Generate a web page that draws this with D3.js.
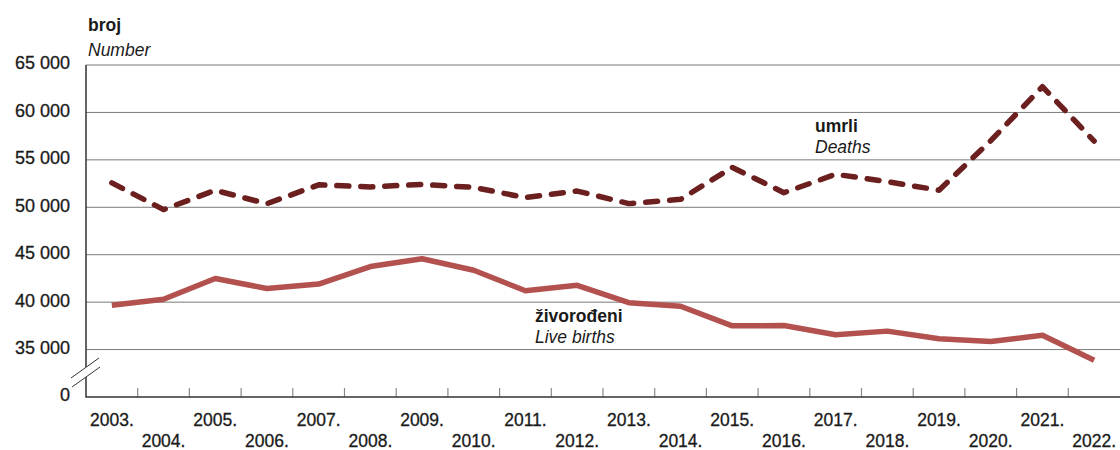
<!DOCTYPE html>
<html>
<head>
<meta charset="utf-8">
<script src="https://cdn.jsdelivr.net/npm/d3@7"></script>
<style>
  body { margin: 0; background: #fff; }
  svg { display: block; font-family: "Liberation Sans", Arial, sans-serif; }
</style>
</head>
<body>
<svg id="svg" width="1120" height="450"></svg>
<script>
(function() {
  'use strict';

  // data
  var years = ['2003.', '2004.', '2005.', '2006.', '2007.', '2008.', '2009.', '2010.', '2011.', '2012.',
               '2013.', '2014.', '2015.', '2016.', '2017.', '2018.', '2019.', '2020.', '2021.', '2022.'];
  var deaths = [52575, 49756, 51790, 50378, 52367, 52151, 52414, 52096, 51019, 51710,
                50386, 50839, 54205, 51542, 53477, 52706, 51794, 57023, 62712, 56979];
  var births = [39668, 40307, 42492, 41446, 41910, 43753, 44577, 43361, 41197, 41771,
                39939, 39566, 37503, 37537, 36556, 36945, 36135, 35845, 36508, 33883];
  // 30000 stands for the broken "0" position
  var yTicks = [30000, 35000, 40000, 45000, 50000, 55000, 60000, 65000];

  var svg = d3.select('#svg');
  var left = 86, right = 1120, top = 65, bottom = 397;
  var textColor = '#1a1a1a';

  var x = d3.scaleBand().domain(years).range([left, right]);
  var y = d3.scaleLinear().domain([30000, 65000]).range([bottom, top]);

  // grid lines
  svg.append('g')
    .selectAll('line')
    .data(yTicks.slice(1))
    .join('line')
    .attr('x1', left).attr('x2', right)
    .attr('y1', function(d) { return y(d); })
    .attr('y2', function(d) { return y(d); })
    .attr('stroke', '#7a7a7a')
    .attr('stroke-width', 1);

  // y axis labels
  var fmt = function(d) {
    return d === 30000 ? '0' : d3.format(',')(d).replace(',', ' ');
  };
  var yAxis = svg.append('g')
    .attr('transform', 'translate(' + left + ',0)')
    .call(d3.axisLeft(y).tickValues(yTicks).tickSize(0).tickPadding(16).tickFormat(fmt));
  yAxis.select('.domain').remove();
  yAxis.selectAll('text')
    .attr('font-size', 18)
    .attr('fill', textColor)
    .attr('stroke', textColor)
    .attr('stroke-width', 0.3)
    .attr('dy', '0.22em')
    .style('font-family', '"Liberation Sans", Arial, sans-serif');

  // x ticks at band edges, pointing up
  svg.append('g')
    .selectAll('line')
    .data(years.slice(1))
    .join('line')
    .attr('x1', function(d) { return x(d); })
    .attr('x2', function(d) { return x(d); })
    .attr('y1', bottom).attr('y2', bottom - 9)
    .attr('stroke', '#8a8a8a')
    .attr('stroke-width', 1.2);

  // x labels, staggered on two rows
  var xAxis = svg.append('g')
    .attr('transform', 'translate(0,' + bottom + ')')
    .call(d3.axisBottom(x).tickSize(0).tickPadding(0));
  xAxis.select('.domain').remove();
  xAxis.selectAll('text')
    .attr('font-size', 17.5)
    .attr('fill', textColor)
    .attr('stroke', textColor)
    .attr('stroke-width', 0.3)
    .style('font-family', '"Liberation Sans", Arial, sans-serif')
    .attr('dy', null)
    .attr('y', function(d, i) { return i % 2 === 0 ? 28.5 : 50; });

  // axes lines
  svg.append('path')
    .attr('d', 'M' + left + ',' + top + 'V' + bottom + 'H' + right)
    .attr('fill', 'none')
    .attr('stroke', '#333')
    .attr('stroke-width', 1.5);

  // axis break
  svg.append('path')
    .attr('d', 'M71,378 L99,358 L100,367 L72,387 Z')
    .attr('fill', '#fff');
  svg.append('path')
    .attr('d', 'M71,378 L99,358 M72,387 L100,367')
    .attr('stroke', '#333')
    .attr('stroke-width', 1);

  var line = d3.line()
    .x(function(d, i) { return x(years[i]) + x.bandwidth() / 2; })
    .y(function(d) { return y(d); });

  svg.append('path')
    .attr('d', line(births))
    .attr('fill', 'none')
    .attr('stroke', '#b3514f')
    .attr('stroke-width', 5.5)
    .attr('stroke-linejoin', 'round');

  svg.append('path')
    .attr('d', line(deaths))
    .attr('fill', 'none')
    .attr('stroke', '#6b1f1f')
    .attr('stroke-width', 5.5)
    .attr('stroke-linecap', 'round')
    .attr('stroke-linejoin', 'round')
    .attr('stroke-dasharray', '12,12');

  // texts
  function label(tx, ty, str, bold, italic) {
    svg.append('text')
      .attr('x', tx).attr('y', ty)
      .attr('font-size', 17.5)
      .attr('font-weight', bold ? 'bold' : 'normal')
      .attr('font-style', italic ? 'italic' : 'normal')
      .attr('fill', textColor)
      .text(str);
  }
  label(88, 31, 'broj', true, false);
  label(88, 56, 'Number', false, true);
  label(815, 132, 'umrli', true, false);
  label(815, 153, 'Deaths', false, true);
  label(535, 322, 'živorođeni', true, false);
  label(535, 343, 'Live births', false, true);
}());
</script>
</body>
</html>
